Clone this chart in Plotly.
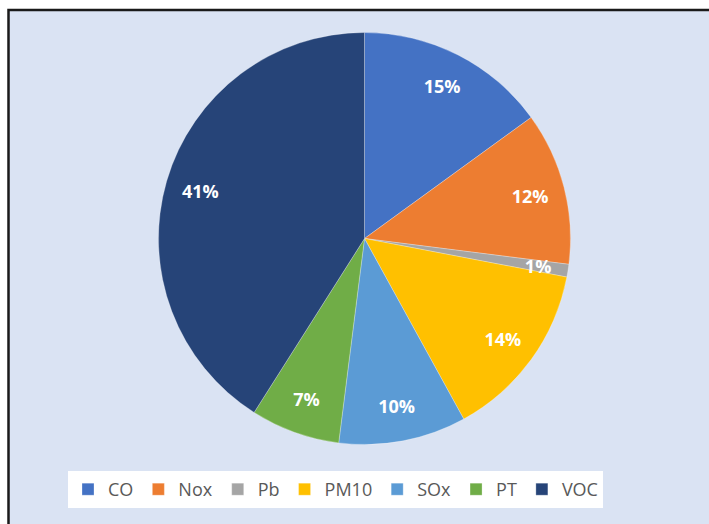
import plotly.graph_objects as go

labels = ["CO", "Nox", "Pb", "PM10", "SOx", "PT", "VOC"]
values = [15, 12, 1, 14, 10, 7, 41]
colors = ["#4472c4", "#ed7d31", "#a5a5a5", "#ffc000", "#5b9bd5", "#70ad47", "#264478"]

W, H = 709, 524
cx, cy, r = 364.5, 238.5, 206


def domain(rad):
    return dict(x=[(cx - rad) / W, (cx + rad) / W],
                y=[(H - cy - rad) / H, (H - cy + rad) / H])


fig = go.Figure()
fig.add_trace(go.Pie(
    labels=labels, values=values, sort=False, direction="clockwise", rotation=0,
    marker=dict(colors=colors, line=dict(color="rgba(255,255,255,0.35)", width=0.8)),
    textinfo="none", hoverinfo="label+percent", domain=domain(r),
    showlegend=True,
))

label_font = dict(family="Open Sans", size=18, color="white", weight="bold")
big = [v >= 3 for v in values]
# transparent ring carrying the percentage labels of the wider slices
fig.add_trace(go.Pie(
    labels=labels, values=values, sort=False, direction="clockwise", rotation=0,
    hole=0.66, marker=dict(colors=["rgba(0,0,0,0)"] * len(labels), line=dict(width=0)),
    texttemplate=["%{percent:.0%}" if b else "" for b in big],
    textposition="inside", insidetextorientation="horizontal",
    textfont=label_font, domain=domain(r), showlegend=False, hoverinfo="skip",
))
# thin slices: label ring placed slightly inward
fig.add_trace(go.Pie(
    labels=labels, values=values, sort=False, direction="clockwise", rotation=0,
    hole=0.9, marker=dict(colors=["rgba(0,0,0,0)"] * len(labels), line=dict(width=0)),
    texttemplate=["" if b else "%{percent:.0%}" for b in big],
    textposition="inside", insidetextorientation="horizontal",
    textfont=label_font, domain=domain(r * 0.88), showlegend=False, hoverinfo="skip",
))

fig.update_layout(
    width=W, height=H, margin=dict(l=0, r=0, t=0, b=0),
    paper_bgcolor="white", plot_bgcolor="white",
    uniformtext=dict(minsize=18, mode="show"),
    legend=dict(
        orientation="h", x=68 / W, xanchor="left", y=1 - 471 / H, yanchor="top",
        bgcolor="white", font=dict(family="Open Sans", size=18, color="#595959"),
        itemwidth=30, traceorder="normal",
    ),
    shapes=[dict(
        type="rect", xref="paper", yref="paper", layer="below",
        x0=8.5 / W, x1=1.2, y0=-0.2, y1=1 - 10 / H,
        fillcolor="#dae3f3", line=dict(color="#1a1a1a", width=2.5),
    )],
)
fig.write_html("out.html")
